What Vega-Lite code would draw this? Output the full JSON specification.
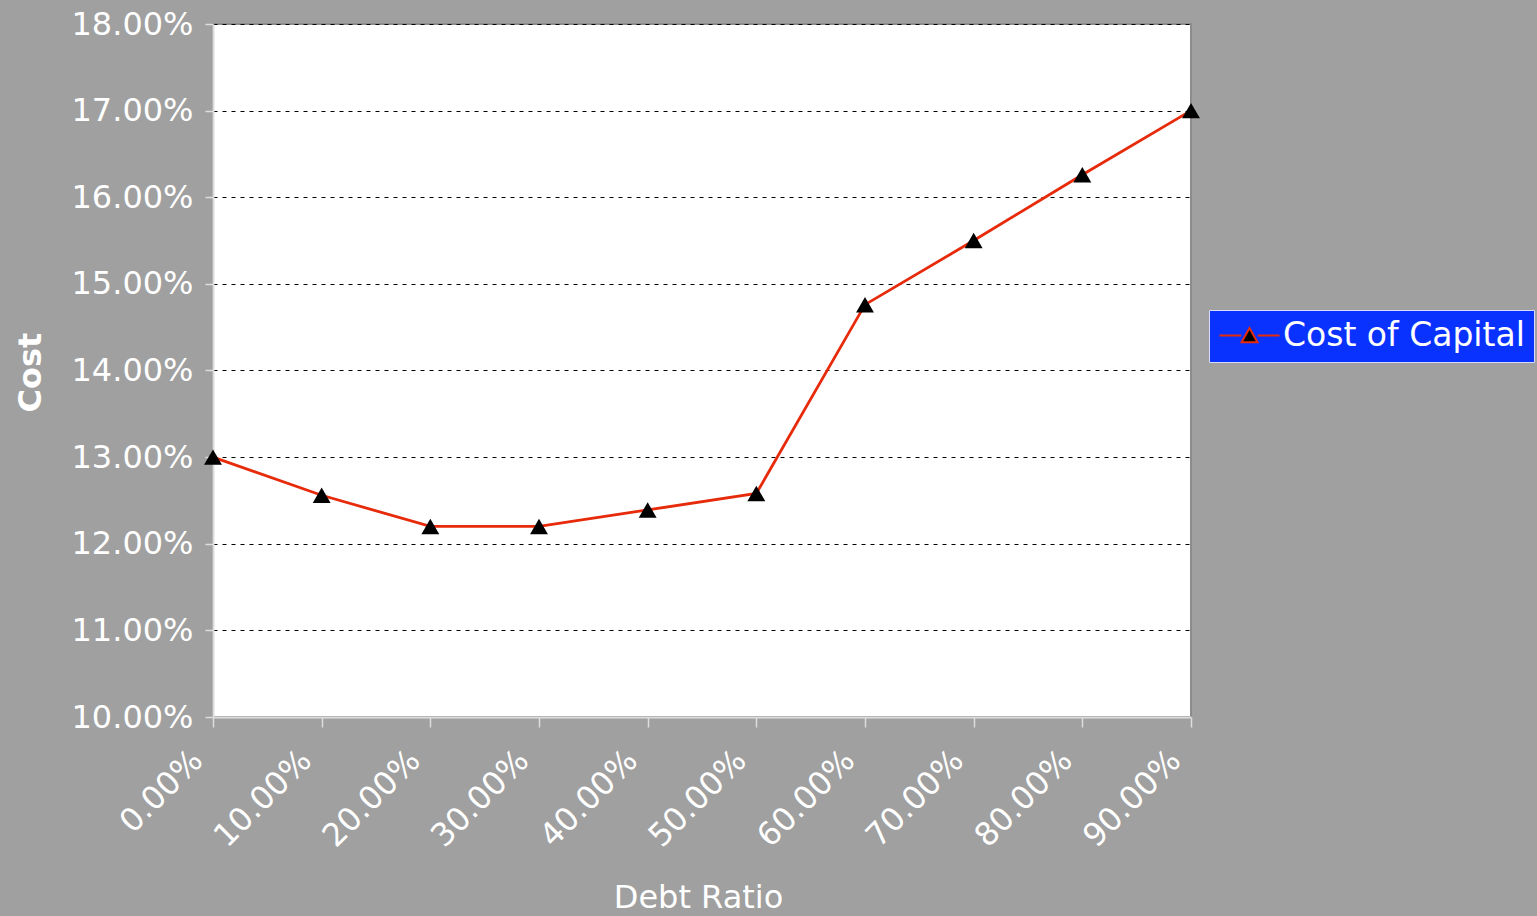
{
  "$schema": "https://vega.github.io/schema/vega-lite/v6.json",
  "autosize": {"type": "none"},
  "width": 978,
  "height": 693,
  "padding": {"left": 213, "top": 24, "right": 346, "bottom": 199},
  "background": "#a0a0a0",
  "config": {
    "font": "DejaVu Sans",
    "view": {"fill": "#ffffff", "stroke": "#8c8c8c", "strokeWidth": 2}
  },
  "data": {
    "values": [
      {"debt": 0.0, "cost": 0.1300, "series": "Cost of Capital"},
      {"debt": 0.1, "cost": 0.1256, "series": "Cost of Capital"},
      {"debt": 0.2, "cost": 0.1220, "series": "Cost of Capital"},
      {"debt": 0.3, "cost": 0.1220, "series": "Cost of Capital"},
      {"debt": 0.4, "cost": 0.1239, "series": "Cost of Capital"},
      {"debt": 0.5, "cost": 0.1258, "series": "Cost of Capital"},
      {"debt": 0.6, "cost": 0.1476, "series": "Cost of Capital"},
      {"debt": 0.7, "cost": 0.1550, "series": "Cost of Capital"},
      {"debt": 0.8, "cost": 0.1626, "series": "Cost of Capital"},
      {"debt": 0.9, "cost": 0.1700, "series": "Cost of Capital"}
    ]
  },
  "encoding": {
    "x": {
      "field": "debt",
      "type": "quantitative",
      "scale": {"domain": [0, 0.9], "nice": false, "zero": false},
      "axis": {
        "values": [0, 0.1, 0.2, 0.3, 0.4, 0.5, 0.6, 0.7, 0.8, 0.9],
        "format": ".2%",
        "grid": false,
        "title": "Debt Ratio",
        "titleColor": "#ffffff",
        "titleFontSize": 32,
        "titleFontWeight": "normal",
        "titleX": 485,
        "titleY": 180,
        "titleBaseline": "middle",
        "labelColor": "#ffffff",
        "labelFontSize": 32,
        "labelAngle": -45,
        "labelAlign": "right",
        "labelBaseline": "middle",
        "labelOverlap": false,
        "labelPadding": 28,
        "labelOffset": -16,
        "domainColor": "#dddddd",
        "domainWidth": 2,
        "tickColor": "#dddddd",
        "tickSize": 10,
        "tickWidth": 1.5
      }
    },
    "y": {
      "field": "cost",
      "type": "quantitative",
      "scale": {"domain": [0.10, 0.18], "nice": false, "zero": false},
      "axis": {
        "values": [0.10, 0.11, 0.12, 0.13, 0.14, 0.15, 0.16, 0.17, 0.18],
        "format": ".2%",
        "grid": true,
        "gridColor": "#000000",
        "gridDash": [4, 5],
        "gridWidth": 1,
        "title": "Cost",
        "titleColor": "#ffffff",
        "titleFontSize": 32,
        "titleFontWeight": "bold",
        "titleAngle": -90,
        "titleX": -183,
        "titleY": 348,
        "titleAlign": "center",
        "titleBaseline": "middle",
        "labelColor": "#ffffff",
        "labelFontSize": 32,
        "labelPadding": 12,
        "domainColor": "#dddddd",
        "domainWidth": 2,
        "tickColor": "#dddddd",
        "tickSize": 8,
        "tickWidth": 1.5
      }
    }
  },
  "layer": [
    {
      "mark": {"type": "line", "strokeWidth": 2.8},
      "encoding": {
        "color": {
          "field": "series",
          "type": "nominal",
          "scale": {"range": ["#e62a0a"]},
          "legend": {
            "title": null,
            "orient": "none",
            "legendX": 996,
            "legendY": 286,
            "fillColor": "#0a32ff",
            "strokeColor": "#d8dcff",
            "padding": 9,
            "labelColor": "#ffffff",
            "labelFontSize": 33,
            "labelLimit": 0,
            "labelOffset": 32,
            "symbolType": "M-1,0H0.45M1.55,0H3M0.47,0.45L1,-0.5L1.53,0.45Z",
            "symbolSize": 900,
            "symbolStrokeWidth": 2,
            "symbolFillColor": "#000000",
            "symbolStrokeColor": "#e62a0a"
          }
        }
      }
    },
    {
      "mark": {"type": "point", "shape": "triangle-up", "filled": true, "size": 320, "color": "#000000", "opacity": 1}
    }
  ]
}
